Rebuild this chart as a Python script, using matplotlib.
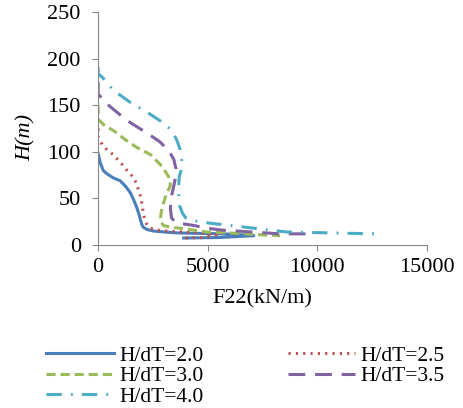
import matplotlib.pyplot as plt
import numpy as np

plt.rcParams['font.family'] = ['Liberation Serif', 'DejaVu Serif']

labels = ['H/dT=2.0', 'H/dT=2.5', 'H/dT=3.0', 'H/dT=3.5', 'H/dT=4.0']
colors = ['#4A7EBB', '#C0504D', '#9BBB59', '#8064A2', '#4BACC6']

f_20 = [0, 100, 230, 370, 690, 1000, 1250, 1470, 1630, 1750, 1850, 1930, 1990, 2060, 2250,
        2520, 3000, 3580, 4500, 5700, 6500, 7100, 5500, 3900]
h_20 = [98, 88, 80, 77, 72, 69, 63, 56, 48, 41, 34, 27, 22, 19, 16.5,
        15, 14, 13, 12.5, 12, 11, 10, 8, 7.5]

f_25 = [0, 0, 180, 410, 690, 920, 1150, 1380, 1600, 1750, 1840, 1920, 1970, 2020, 2060, 2110,
        2150, 2250, 2390, 2700, 3120, 3900, 4700, 5400, 4800, 3900]
h_25 = [125, 116, 108, 102, 97, 91, 85, 78, 73, 66, 59, 53, 48, 41, 34, 29,
        25, 21, 18, 16, 15, 14, 13, 11, 8, 7.5]

f_30 = [0, 0, 300, 690, 1240, 1740, 2390, 2850, 3120, 3300, 3280, 3120, 2980, 2880, 2850, 2880,
        2980, 3300, 3760, 4960, 5970, 7340, 8300]
h_30 = [150, 135, 128, 123, 113, 105, 97, 86, 77, 70, 63, 55, 45, 36, 29, 24,
        21, 19, 18, 14, 13, 11, 10]

f_35 = [0, 0, 370, 1290, 2300, 2800, 3200, 3450, 3550, 3530, 3420, 3300, 3300, 3350, 3500,
        3800, 4360, 4960, 5650, 7000, 8260, 9700]
h_35 = [175, 162, 152, 134, 119, 111, 102, 92, 82, 72, 60, 48, 38, 29, 25,
        23, 21, 18, 16, 14, 12, 12]

f_40 = [0, 0, 230, 690, 1470, 2200, 2980, 3350, 3580, 3750, 3810, 3780, 3700, 3670, 3680,
        3720, 3850, 4000, 4400, 4900, 6750, 8580, 10560, 12600]
h_40 = [191, 184, 179, 166, 153, 143, 131, 123, 113, 102, 91, 80, 73, 62, 52,
        42, 34, 29, 26, 24, 19, 14, 13, 12]

fs = [f_20, f_25, f_30, f_35, f_40]
hs = [h_20, h_25, h_30, h_35, h_40]
styles = ['-', (0, (0.7, 1.7)), (0, (3, 1.6)), (0, (5.5, 3.2)), (0, (5, 3, 0.6, 3))]

fig = plt.figure(figsize=(4.63, 4.08), dpi=100)
ax = fig.add_axes([0.212, 0.3995, 0.71, 0.571])

lines = []
for f, h, c, s, lab in zip(fs, hs, colors, styles, labels):
    ln, = ax.plot(f, h, color=c, linestyle=s, linewidth=2.2, label=lab)
    lines.append(ln)

ax.set_xlim(0, 15000)
ax.set_ylim(0, 250)
ax.set_xticks([0, 5000, 10000, 15000])
ax.set_yticks(np.arange(0, 251, 50))
ax.tick_params(labelsize=16, direction='out', length=4.5, color='#868686', pad=5)
ax.tick_params(axis='y', pad=8)
for sp in ['top', 'right']:
    ax.spines[sp].set_visible(False)
for sp in ['left', 'bottom']:
    ax.spines[sp].set_color('#868686')
ax.set_xlabel('F22(kN/m)', fontsize=16, labelpad=9)
ax.set_ylabel('H(m)', fontsize=16, style='italic')
ax.yaxis.set_label_coords(-0.19, 0.463)

order = [0, 2, 4, 1, 3]
fig.legend([lines[i] for i in order], [labels[i] for i in order], ncol=2,
           loc='upper left', bbox_to_anchor=(0.058, 0.2), frameon=False,
           fontsize=15.5, handlelength=3.15, columnspacing=3.9, labelspacing=0.02,
           handletextpad=0.25)

fig.savefig('out.png', dpi=100)
